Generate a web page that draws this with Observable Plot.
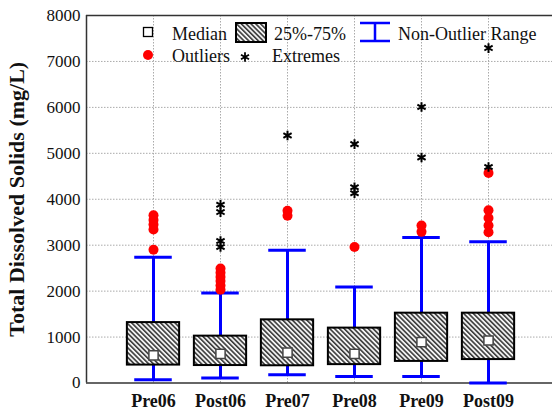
<!DOCTYPE html>
<html>
<head>
<meta charset="utf-8">
<script src="https://cdn.jsdelivr.net/npm/d3@7"></script>
<script src="https://cdn.jsdelivr.net/npm/@observablehq/plot@0.6"></script>
<style>
  html, body { margin: 0; padding: 0; background: #fff; }
  #chart { position: relative; width: 552px; height: 417px; }
  #chart svg, #chart svg text { font-family: "Liberation Serif", "Times New Roman", serif !important; }
  g[aria-label="y-axis label"] text { font-weight: bold; font-size: 22px; }
  g[aria-label="x-axis tick label"] text { font-weight: bold; font-size: 18px; }
</style>
</head>
<body>
<div id="chart"></div>
<script>
// Total dissolved solids by sampling period (mg/L)
const groups = ["Pre06", "Post06", "Pre07", "Pre08", "Pre09", "Post09"];
const median = [600, 635, 660, 635, 890, 925];
const q1 = [390, 380, 375, 400, 470, 510];
const q3 = [1315, 1020, 1375, 1195, 1520, 1520];
const rangeLow = [70, 110, 180, 140, 140, 0];
const rangeHigh = [2740, 1960, 2890, 2090, 3165, 3075];

// [group, value]
const outliers = [
  ["Pre06", 3650], ["Pre06", 3550], ["Pre06", 3450], ["Pre06", 3340], ["Pre06", 2900],
  ["Post06", 2490], ["Post06", 2400], ["Post06", 2310], ["Post06", 2220], ["Post06", 2120], ["Post06", 2030],
  ["Pre07", 3750], ["Pre07", 3640],
  ["Pre08", 2960],
  ["Pre09", 3430], ["Pre09", 3290],
  ["Post09", 4570], ["Post09", 3760], ["Post09", 3590], ["Post09", 3430], ["Post09", 3280]
];
const extremes = [
  ["Post06", 3880], ["Post06", 3720], ["Post06", 3090], ["Post06", 2960],
  ["Pre07", 5390],
  ["Pre08", 5200], ["Pre08", 4260], ["Pre08", 4130],
  ["Pre09", 6010], ["Pre09", 4910],
  ["Post09", 7290], ["Post09", 4700]
];
const yTicks = [0, 1000, 2000, 3000, 4000, 5000, 6000, 7000, 8000];

const pos = g => groups.indexOf(g) + 1;
const boxes = groups.map((g, i) => ({
  g, x: i + 1, median: median[i], q1: q1[i], q3: q3[i], lo: rangeLow[i], hi: rangeHigh[i]
}));
const outlierData = outliers.map(([g, v]) => ({x: pos(g), v}));
const extremeData = extremes.map(([g, v]) => ({x: pos(g), v}));

const BOX_HALF = 0.39, CAP_HALF = 0.28;
const BLUE = "#0000ff";

// diagonal hatching for the interquartile boxes
function hatchDefs() {
  const ns = "http://www.w3.org/2000/svg";
  const defs = document.createElementNS(ns, "defs");
  const p = document.createElementNS(ns, "pattern");
  p.setAttribute("id", "hatch");
  p.setAttribute("patternUnits", "userSpaceOnUse");
  p.setAttribute("width", "3.4");
  p.setAttribute("height", "3.4");
  p.setAttribute("patternTransform", "rotate(-45)");
  const bg = document.createElementNS(ns, "rect");
  bg.setAttribute("width", "3.4"); bg.setAttribute("height", "3.4"); bg.setAttribute("fill", "#f2f2f2");
  const ln = document.createElementNS(ns, "line");
  ln.setAttribute("x1", "0.8"); ln.setAttribute("y1", "0"); ln.setAttribute("x2", "0.8"); ln.setAttribute("y2", "3.4");
  ln.setAttribute("stroke", "#111"); ln.setAttribute("stroke-width", "1.3");
  p.appendChild(bg); p.appendChild(ln); defs.appendChild(p);
  return defs;
}

const chart = Plot.plot({
  width: 552,
  height: 417,
  marginLeft: 86,
  marginRight: 0,
  marginTop: 15,
  marginBottom: 34.5,
  style: {fontSize: "17px", color: "#111", background: "#fff"},
  x: {type: "linear", domain: [0, 6.955]},
  y: {domain: [0, 8000]},
  marks: [
    hatchDefs,
    Plot.gridY(yTicks.slice(1, -1), {stroke: "#aaa", strokeOpacity: 1, strokeDasharray: "1.5,1.5"}),
    Plot.gridX(boxes.map(d => d.x), {stroke: "#aaa", strokeOpacity: 1, strokeDasharray: "1.5,1.5"}),
    Plot.axisY(yTicks, {tickSize: 0, tickPadding: 6, tickFormat: d => String(d), label: "Total Dissolved Solids (mg/L)", labelAnchor: "center", labelArrow: "none", labelOffset: 78}),
    Plot.axisX(boxes.map(d => d.x), {tickSize: 0, tickPadding: 11, tickFormat: d => groups[d - 1], label: null}),
    // frame: left, bottom, top
    Plot.ruleX([0], {stroke: "#333", strokeWidth: 1.5}),
    Plot.ruleY([0], {stroke: "#333", strokeWidth: 1.5}),
    Plot.ruleY([8000], {stroke: "#333", strokeWidth: 1.5}),
    // whisker stems and caps
    Plot.ruleX(boxes, {x: "x", y1: "lo", y2: "hi", stroke: BLUE, strokeWidth: 3}),
    Plot.ruleY(boxes, {y: "hi", x1: d => d.x - CAP_HALF, x2: d => d.x + CAP_HALF, stroke: BLUE, strokeWidth: 3}),
    Plot.ruleY(boxes, {y: "lo", x1: d => d.x - CAP_HALF, x2: d => d.x + CAP_HALF, stroke: BLUE, strokeWidth: 3}),
    // 25%-75% boxes
    Plot.rect(boxes, {x1: d => d.x - BOX_HALF, x2: d => d.x + BOX_HALF, y1: "q1", y2: "q3", fill: "url(#hatch)", stroke: "#000", strokeWidth: 2}),
    // medians
    Plot.dot(boxes, {x: "x", y: "median", symbol: "square", r: 5.2, fill: "#fff", stroke: "#444", strokeWidth: 1.5}),
    Plot.dot(outlierData, {x: "x", y: "v", r: 5, fill: "#ff0000"}),
    Plot.dot(extremeData, {x: "x", y: "v", symbol: "asterisk", r: 4.5, stroke: "#000", strokeWidth: 2})
  ]
});

// Legend inside the top of the plotting area
const lg = d3.select(chart).append("g")
  .attr("text-anchor", "start")
  .attr("font-size", 18)
  .attr("fill", "#111");
lg.append("rect").attr("x", 143.5).attr("y", 27.5).attr("width", 9).attr("height", 9)
  .attr("fill", "#fff").attr("stroke", "#000").attr("stroke-width", 1.3);
lg.append("text").attr("x", 172).attr("y", 40).text("Median");
lg.append("rect").attr("x", 236).attr("y", 23).attr("width", 30).attr("height", 19)
  .attr("fill", "url(#hatch)").attr("stroke", "#000").attr("stroke-width", 2);
lg.append("text").attr("x", 274).attr("y", 40).text("25%-75%");
lg.append("path").attr("d", "M360,23H390M375,23V41M360,41H390")
  .attr("fill", "none").attr("stroke", BLUE).attr("stroke-width", 2.5);
lg.append("text").attr("x", 398).attr("y", 40).text("Non-Outlier Range");
lg.append("circle").attr("cx", 148).attr("cy", 55).attr("r", 5).attr("fill", "#ff0000");
lg.append("text").attr("x", 172).attr("y", 62).text("Outliers");
lg.append("path").attr("transform", "translate(245,57)")
  .attr("d", d3.symbol(d3.symbolAsterisk, 60)())
  .attr("fill", "none").attr("stroke", "#000").attr("stroke-width", 1.8);
lg.append("text").attr("x", 272).attr("y", 62).text("Extremes");

document.getElementById("chart").appendChild(chart);
</script>
</body>
</html>
